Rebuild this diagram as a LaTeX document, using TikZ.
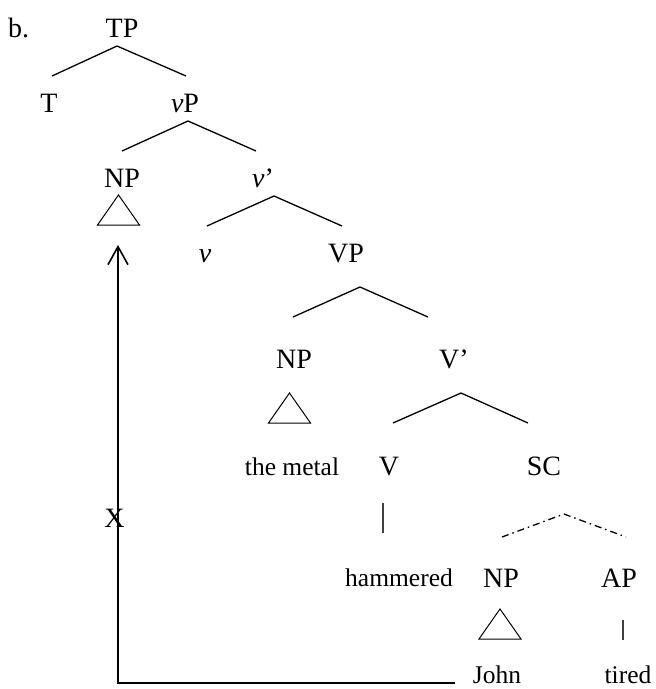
\documentclass[tikz,border=0pt]{standalone}
\usepackage{fontspec}
\setmainfont{Liberation Serif}
\usetikzlibrary{arrows.meta}
\newcommand{\myBranch}[4][lineStyle]{%%
  %% Draw the two branches below a phrase.
  \draw[#1] (#3) -- (#2) -- (#4);
}
\newcommand{\myRoof}[1]{%%
  %% Draw the triangle below a phrase.
  \draw[roofStyle] (#1) -- ++(-21,30) -- ++(42,0) -- cycle;
}
\newcommand{\myBar}[2]{%%
  \draw[barStyle] (#1) -- (#2);
}
\begin{document}
\begin{tikzpicture}[%%
  x=1pt,y=-1pt,
  lineStyle/.style={-,line width=1.3pt},%%
  dotStyle/.style={-,line width=1.3pt,dash pattern=on 7pt off 4pt on 1.5pt off 4pt},%%
  roofStyle/.style={line width=1pt,line join=miter},%%
  barStyle/.style={line width=1.3pt,black!75},%%
  moveStyle/.style={line width=1.6pt,-{Straight Barb[length=18pt,width=20pt]}},%%
  catStyle/.style={inner sep=0pt,anchor=base,font=\fontsize{28}{34}\selectfont},%%
  wordStyle/.style={inner sep=0pt,anchor=base,font=\fontsize{25.5}{30}\selectfont}
]
\useasboundingbox (0,0) rectangle (656,689);
%%
%% Labels of the tree.
\node[catStyle,anchor=base west] (b) at (8,37) {b.};
\node[catStyle] (TP) at (122,37) {TP};
\node[catStyle] (T) at (49,112) {T};
\node[catStyle] (vP) at (185,112) {\textit{v}P};
\node[catStyle] (NPa) at (122,187) {NP};
\node[catStyle] (vBar) at (263,187) {\textit{v}’};
\node[catStyle] (v) at (205,262) {\textit{v}};
\node[catStyle] (VP) at (346,262) {VP};
\node[catStyle] (NPb) at (294,368) {NP};
\node[catStyle] (VBar) at (454,368) {V’};
\node[wordStyle] (metal) at (292,475) {the metal};
\node[catStyle] (V) at (389,475) {V};
\node[catStyle] (SC) at (544,475) {SC};
\node[wordStyle] (hammered) at (399,586) {hammered};
\node[catStyle] (NPc) at (501,587) {NP};
\node[catStyle] (AP) at (619,587) {AP};
\node[wordStyle] (John) at (497,683) {John};
\node[wordStyle] (tired) at (628,683) {tired};
%%
%% Ends of the branches.
\coordinate (tpTop) at (117,46);
\coordinate (tpLeft) at (52,76);
\coordinate (tpRight) at (186,76);
\coordinate (vpTop) at (188,121);
\coordinate (vpLeft) at (122,151);
\coordinate (vpRight) at (256,151);
\coordinate (vbarTop) at (274,196);
\coordinate (vbarLeft) at (207,226);
\coordinate (vbarRight) at (342,226);
\coordinate (VPTop) at (360,287);
\coordinate (VPLeft) at (293,317);
\coordinate (VPRight) at (428,317);
\coordinate (VbarTop) at (461,393);
\coordinate (VbarLeft) at (393,423);
\coordinate (VbarRight) at (528,423);
\coordinate (scTop) at (564,514);
\coordinate (scLeft) at (502,537);
\coordinate (scRight) at (626,537);
%% Tops of the triangles and bars.
\coordinate (npaRoof) at (118.5,195);
\coordinate (npbRoof) at (289.5,393);
\coordinate (npcRoof) at (500,609);
\coordinate (vTop) at (383,503);
\coordinate (vBottom) at (383,533);
\coordinate (apTop) at (623,620);
\coordinate (apBottom) at (623,640);
\coordinate (moveTip) at (118,245);
%%
%% Draw the tree.
\myBranch{tpTop}{tpLeft}{tpRight}
\myBranch{vpTop}{vpLeft}{vpRight}
\myBranch{vbarTop}{vbarLeft}{vbarRight}
\myBranch{VPTop}{VPLeft}{VPRight}
\myBranch{VbarTop}{VbarLeft}{VbarRight}
\myBranch[dotStyle]{scTop}{scLeft}{scRight}
\myRoof{npaRoof}
\myRoof{npbRoof}
\myRoof{npcRoof}
\myBar{vTop}{vBottom}
\myBar{apTop}{apBottom}
%%
%% The blocked movement.
\draw[moveStyle] ([xshift=-18pt]John.base west) -| (moveTip);
\node[catStyle] (X) at (114.5,527) {X};
\end{tikzpicture}
\end{document}
